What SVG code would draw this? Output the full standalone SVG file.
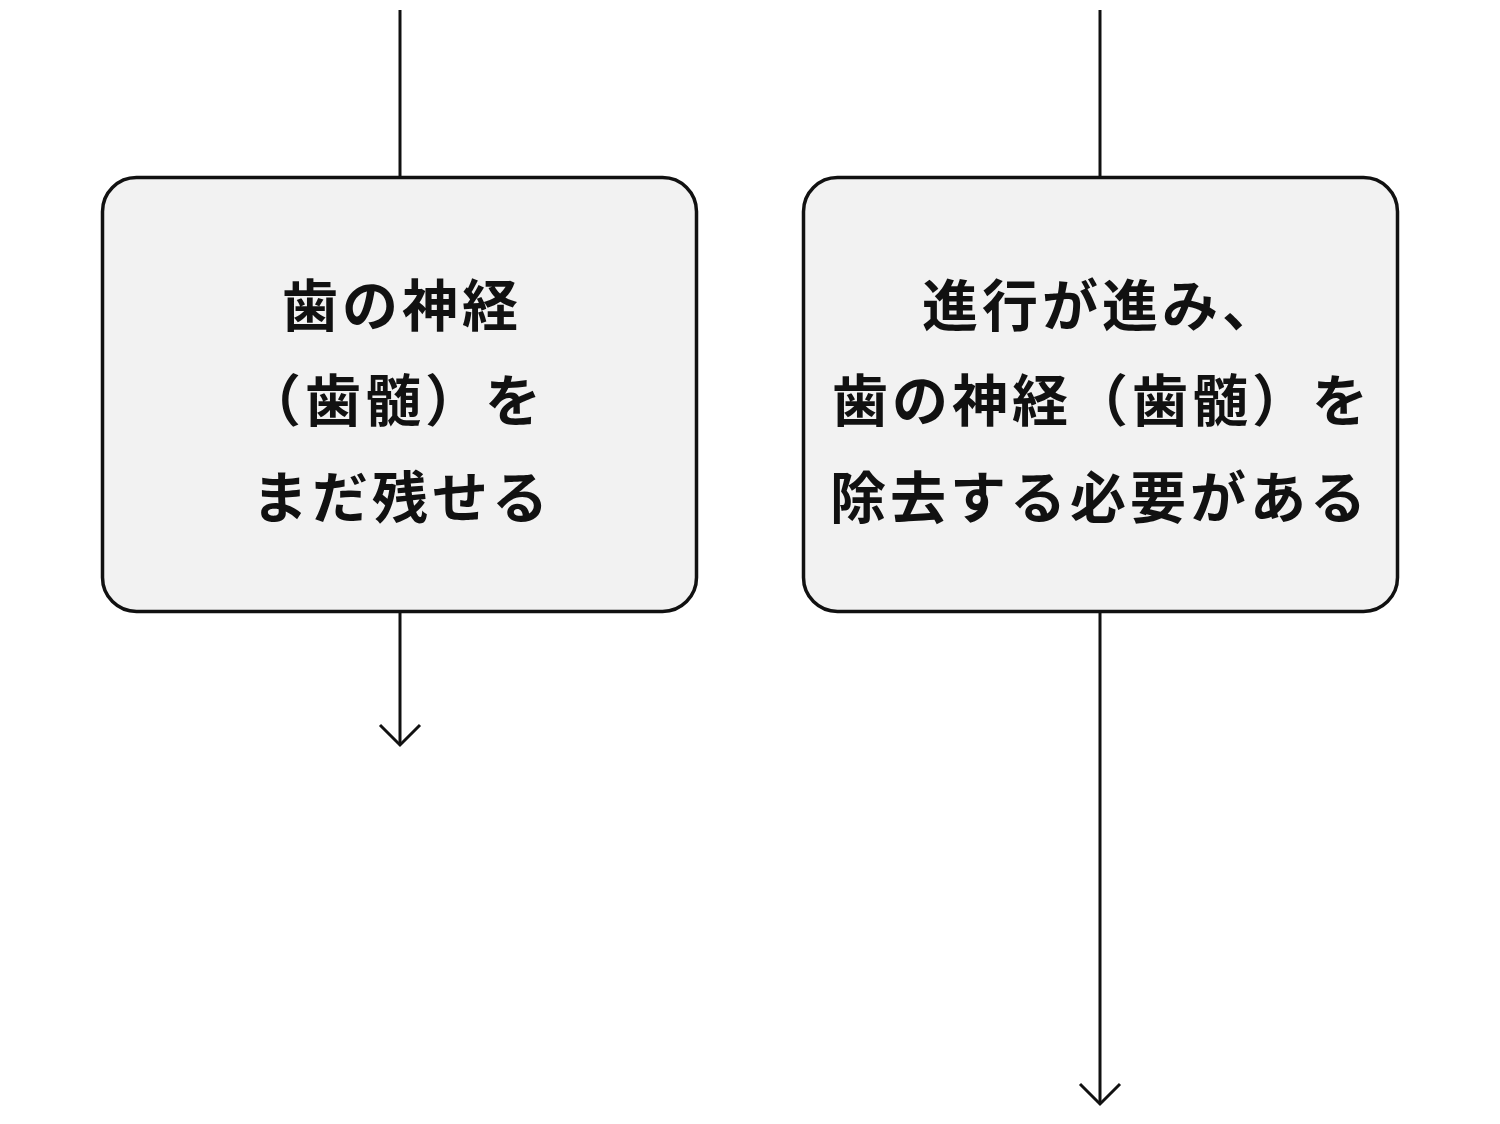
<svg xmlns="http://www.w3.org/2000/svg" width="1500" height="1124" viewBox="0 0 1500 1124">
<style>
.box{fill:#f2f2f2;stroke:#111;stroke-width:3.5}
.conn{stroke:#111;stroke-width:3;fill:none}
.head{stroke:#111;stroke-width:3;fill:none;stroke-linecap:butt;stroke-linejoin:miter}
.lbl{font-family:"Noto Sans CJK JP","Noto Sans CJK SC",sans-serif;font-size:56px;font-weight:700;fill:#111;text-anchor:middle;letter-spacing:4px}
</style>
<rect width="1500" height="1124" fill="#ffffff"/>
<g id="connectors">
<line class="conn" x1="400" y1="10" x2="400" y2="177"/>
<line class="conn" x1="400" y1="612" x2="400" y2="744"/>
<polyline class="head" points="380,725 400,745 420,725"/>
<line class="conn" x1="1100" y1="10" x2="1100" y2="177"/>
<line class="conn" x1="1100" y1="612" x2="1100" y2="1103"/>
<polyline class="head" points="1080,1084 1100,1104 1120,1084"/>
</g>
<g id="node-left">
<rect class="box" x="102.5" y="177.5" width="594" height="434" rx="34" ry="34"/>
<text class="lbl" x="402" y="326">歯の神経</text>
<text class="lbl" x="395" y="421">（歯髄）を</text>
<text class="lbl" x="402" y="518">まだ残せる</text>
</g>
<g id="node-right">
<rect class="box" x="803.5" y="177.5" width="594" height="434" rx="34" ry="34"/>
<text class="lbl" x="1102" y="326">進行が進み、</text>
<text class="lbl" x="1102" y="421">歯の神経（歯髄）を</text>
<text class="lbl" x="1100" y="518">除去する必要がある</text>
</g>
</svg>
